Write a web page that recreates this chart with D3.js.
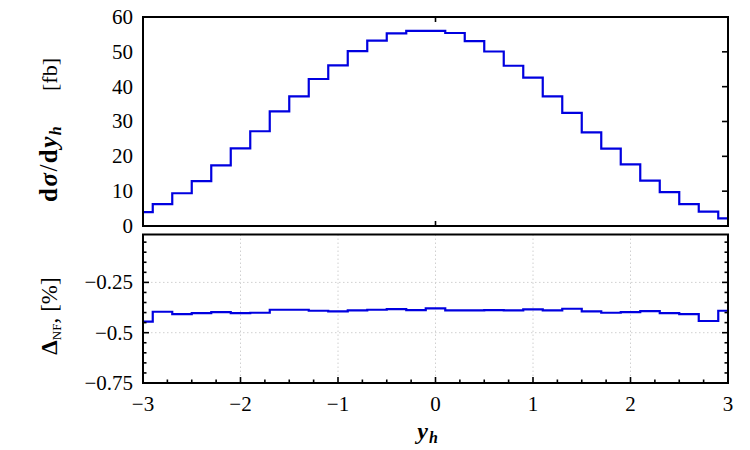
<!DOCTYPE html>
<html>
<head>
<meta charset="utf-8">
<script src="https://cdn.jsdelivr.net/npm/d3@7"></script>
<style>
  body { margin: 0; background: #fff; }
  svg { display: block; }
</style>
</head>
<body>
<div id="chart"></div>
<script>
// ----------------------------------------------------------
// Data (31 bins of width 0.2, centred on -3 ... 3)
// ----------------------------------------------------------
const binCenters = [-3.0, -2.8, -2.6, -2.4, -2.2, -2.0, -1.8, -1.6, -1.4, -1.2, -1.0,
  -0.8, -0.6, -0.4, -0.2, 0.0, 0.2, 0.4, 0.6, 0.8, 1.0, 1.2, 1.4, 1.6, 1.8, 2.0,
  2.2, 2.4, 2.6, 2.8, 3.0];
const binWidth = 0.2;

// dsigma/dy_h [fb]
const xsecValues = [4.0, 6.3, 9.4, 12.9, 17.4, 22.3, 27.2, 32.9, 37.2, 42.2, 46.1,
  50.2, 53.2, 55.3, 56.0, 56.0, 55.4, 53.1, 50.1, 46.0, 42.6, 37.2, 32.5, 26.9, 22.2,
  17.7, 13.0, 9.7, 6.3, 4.1, 2.2];

// Delta_NF [%]
const nfValues = [-0.445, -0.396, -0.408, -0.403, -0.398, -0.403, -0.401, -0.386,
  -0.386, -0.391, -0.394, -0.389, -0.386, -0.383, -0.388, -0.379, -0.389, -0.389,
  -0.388, -0.389, -0.384, -0.389, -0.381, -0.394, -0.401, -0.398, -0.393, -0.403,
  -0.408, -0.442, -0.391];

const xTicks = [-3, -2, -1, 0, 1, 2, 3];
const xMinorTicks = [-2.75, -2.5, -2.25, -1.75, -1.5, -1.25, -0.75, -0.5, -0.25,
  0.25, 0.5, 0.75, 1.25, 1.5, 1.75, 2.25, 2.5, 2.75];
const topYTicks = [0, 10, 20, 30, 40, 50, 60];
const botYTicks = [-0.75, -0.5, -0.25];
const botYMinorTicks = [-0.7, -0.65, -0.6, -0.55, -0.45, -0.4, -0.35, -0.3, -0.2,
  -0.15, -0.1, -0.05];

const LINE_COLOR = '#0000e0';
const FONT = "'Liberation Serif', 'Times New Roman', serif";

// ----------------------------------------------------------
// Layout
// ----------------------------------------------------------
const W = 750, H = 450;
const left = 143, right = 728;
const topPanel = { y0: 17, y1: 226 };
const botPanel = { y0: 234.5, y1: 383 };

const svg = d3.select('#chart').append('svg')
  .attr('width', W).attr('height', H)
  .style('font-family', FONT);

const x = d3.scaleLinear().domain([-3, 3]).range([left, right]);
const yTop = d3.scaleLinear().domain([0, 60]).range([topPanel.y1, topPanel.y0]);
const yBot = d3.scaleLinear().domain([-0.75, -0.012]).range([botPanel.y1, botPanel.y0]);

const fmt = (d) => String(d).replace('-', '\u2212');

// step-histogram points, clipped to the x range
function stepPoints(values) {
  const pts = [];
  binCenters.forEach((c, i) => {
    const lo = Math.max(-3, c - binWidth / 2);
    const hi = Math.min(3, c + binWidth / 2);
    pts.push([lo, values[i]], [hi, values[i]]);
  });
  return pts;
}

// ----------------------------------------------------------
// Bottom panel grid (dotted)
// ----------------------------------------------------------
const grid = svg.append('g')
  .attr('stroke', '#d0d0d0').attr('stroke-width', 1).attr('stroke-dasharray', '1.5 2.5');
grid.selectAll(null).data([-2, -1, 0, 1, 2]).enter().append('line')
  .attr('x1', (d) => x(d)).attr('x2', (d) => x(d))
  .attr('y1', botPanel.y0).attr('y2', botPanel.y1);
grid.selectAll(null).data([-0.5, -0.25]).enter().append('line')
  .attr('x1', left).attr('x2', right)
  .attr('y1', (d) => yBot(d)).attr('y2', (d) => yBot(d));

// ----------------------------------------------------------
// Histograms
// ----------------------------------------------------------
const line = (ys) => d3.line().x((d) => x(d[0])).y((d) => ys(d[1]));

svg.append('path')
  .attr('d', line(yTop)(stepPoints(xsecValues)))
  .attr('fill', 'none').attr('stroke', LINE_COLOR).attr('stroke-width', 2.2);

svg.append('path')
  .attr('d', line(yBot)(stepPoints(nfValues)))
  .attr('fill', 'none').attr('stroke', LINE_COLOR).attr('stroke-width', 2.2);

// ----------------------------------------------------------
// Ticks (drawn inward) and frames
// ----------------------------------------------------------
const ticks = svg.append('g').attr('stroke', '#000').attr('stroke-width', 1.6);

// top panel: right side y ticks, x tick at 0 top and bottom
ticks.selectAll(null).data(topYTicks.slice(1, -1)).enter().append('line')
  .attr('x1', right).attr('x2', right - 6)
  .attr('y1', (d) => yTop(d)).attr('y2', (d) => yTop(d));
[topPanel.y0, topPanel.y1].forEach((yy, k) => {
  ticks.append('line')
    .attr('x1', x(0)).attr('x2', x(0))
    .attr('y1', yy).attr('y2', k === 0 ? yy + 5 : yy - 5);
});

// bottom panel: y ticks both sides
function yTickLines(data, len) {
  [[left, 1], [right, -1]].forEach(([xx, dir]) => {
    ticks.selectAll(null).data(data).enter().append('line')
      .attr('x1', xx).attr('x2', xx + dir * len)
      .attr('y1', (d) => yBot(d)).attr('y2', (d) => yBot(d));
  });
}
yTickLines([-0.5, -0.25], 6);
yTickLines(botYMinorTicks, 3.5);

// bottom panel: x ticks
ticks.selectAll(null).data(xTicks.slice(1, -1)).enter().append('line')
  .attr('x1', (d) => x(d)).attr('x2', (d) => x(d))
  .attr('y1', botPanel.y1).attr('y2', botPanel.y1 - 6);
ticks.selectAll(null).data(xMinorTicks).enter().append('line')
  .attr('x1', (d) => x(d)).attr('x2', (d) => x(d))
  .attr('y1', botPanel.y1).attr('y2', botPanel.y1 - 3.5);

[topPanel, botPanel].forEach((p) => {
  svg.append('rect')
    .attr('x', left).attr('y', p.y0)
    .attr('width', right - left).attr('height', p.y1 - p.y0)
    .attr('fill', 'none').attr('stroke', '#000').attr('stroke-width', 2);
});

// ----------------------------------------------------------
// Tick labels
// ----------------------------------------------------------
svg.selectAll(null).data(topYTicks).enter().append('text')
  .attr('font-size', 21)
  .attr('x', 133).attr('y', (d) => yTop(d)).attr('dy', '0.33em')
  .attr('text-anchor', 'end')
  .text((d) => d);

svg.selectAll(null).data(botYTicks).enter().append('text')
  .attr('font-size', 21)
  .attr('x', 133).attr('y', (d) => yBot(d)).attr('dy', '0.33em')
  .attr('text-anchor', 'end')
  .text((d) => fmt(d));

svg.selectAll(null).data(xTicks).enter().append('text')
  .attr('font-size', 21)
  .attr('x', (d) => x(d)).attr('y', 411)
  .attr('text-anchor', 'middle')
  .text((d) => fmt(d));

// ----------------------------------------------------------
// Axis titles
// ----------------------------------------------------------
const xt = svg.append('text')
  .attr('x', 428).attr('y', 439)
  .attr('text-anchor', 'middle')
  .attr('font-size', 24).attr('font-weight', 'bold').attr('font-style', 'italic')
  .attr('letter-spacing', 1);
xt.append('tspan').text('y');
xt.append('tspan').attr('font-size', 16).attr('dy', 4).text('h');

// top y title: math part and unit
const yt = svg.append('text')
  .attr('transform', 'translate(57,202) rotate(-90)')
  .attr('text-anchor', 'start')
  .attr('font-size', 25).attr('letter-spacing', 1.5);
yt.append('tspan').attr('font-weight', 'bold').text('d');
yt.append('tspan').attr('font-weight', 'bold').attr('font-style', 'italic').text('σ');
yt.append('tspan').attr('font-weight', 'normal').text('/');
yt.append('tspan').attr('font-weight', 'bold').text('d');
yt.append('tspan').attr('font-weight', 'bold').attr('font-style', 'italic').text('y');
yt.append('tspan').attr('font-weight', 'bold').attr('font-style', 'italic')
  .attr('font-size', 16).attr('dy', 4).text('h');

svg.append('text')
  .attr('transform', 'translate(57,58) rotate(-90)')
  .attr('text-anchor', 'end')
  .attr('font-size', 22)
  .text('[fb]');

// bottom y title
const bt = svg.append('text')
  .attr('transform', 'translate(57,316) rotate(-90)')
  .attr('text-anchor', 'middle')
  .attr('font-size', 23);
bt.append('tspan').attr('font-weight', 'bold').text('Δ');
bt.append('tspan').attr('font-size', 13).attr('dy', 4).text('NF');
bt.append('tspan').attr('dy', -4).text(',');
bt.append('tspan').attr('dx', 6).text('[%]');
</script>
</body>
</html>
